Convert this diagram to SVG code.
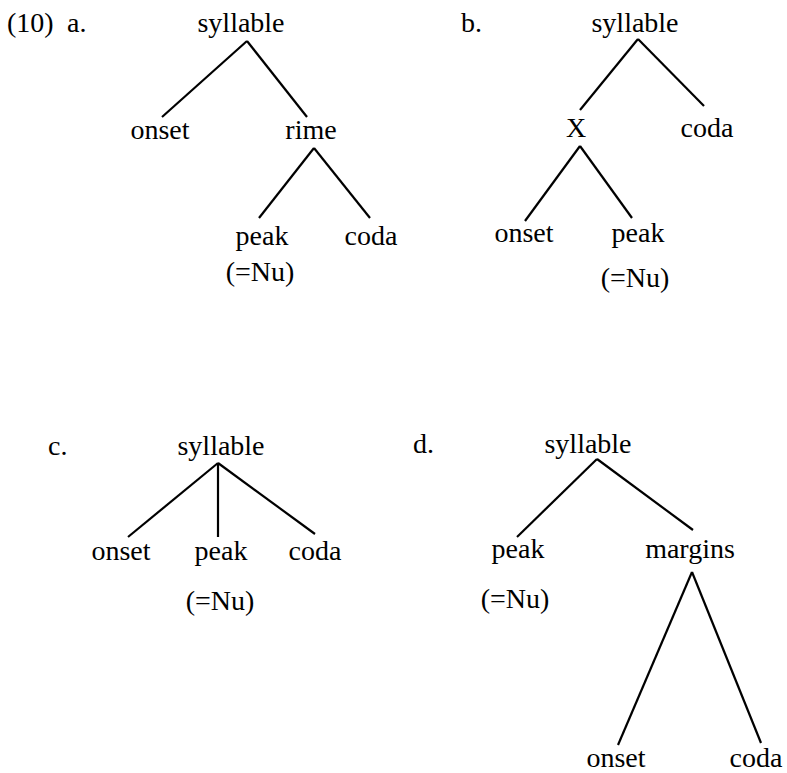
<svg xmlns="http://www.w3.org/2000/svg" width="787" height="773" viewBox="0 0 787 773">
<style>
text{font-family:"Liberation Serif","Times New Roman",serif;font-size:28px;fill:#000;text-anchor:middle}
text.l{text-anchor:start}
#connectors line{stroke:#000;stroke-width:2.2;stroke-linecap:butt}
</style>
<rect width="787" height="773" fill="#fff"/>
<g id="labels">
<text class="l" x="7" y="32">(10)</text>
<text class="l" x="67" y="32">a.</text>
<text class="l" x="461" y="32">b.</text>
<text class="l" x="48" y="455">c.</text>
<text class="l" x="413" y="453">d.</text>
</g>
<g id="tree-a">
<g id="a-syllable"><text x="241" y="32">syllable</text></g>
<g id="a-onset"><text x="160" y="139">onset</text></g>
<g id="a-rime"><text x="311" y="139">rime</text></g>
<g id="a-peak"><text x="262" y="245">peak</text></g>
<g id="a-coda"><text x="371" y="245">coda</text></g>
<g id="a-nu"><text x="260" y="281">(=Nu)</text></g>
</g>
<g id="tree-b">
<g id="b-syllable"><text x="635" y="32">syllable</text></g>
<g id="b-X"><text x="576" y="137">X</text></g>
<g id="b-coda"><text x="707" y="137">coda</text></g>
<g id="b-onset"><text x="524" y="242">onset</text></g>
<g id="b-peak"><text x="638" y="242">peak</text></g>
<g id="b-nu"><text x="635" y="287">(=Nu)</text></g>
</g>
<g id="tree-c">
<g id="c-syllable"><text x="221" y="455">syllable</text></g>
<g id="c-onset"><text x="121" y="560">onset</text></g>
<g id="c-peak"><text x="221" y="560">peak</text></g>
<g id="c-coda"><text x="315" y="560">coda</text></g>
<g id="c-nu"><text x="220" y="610">(=Nu)</text></g>
</g>
<g id="tree-d">
<g id="d-syllable"><text x="588" y="453">syllable</text></g>
<g id="d-peak"><text x="518" y="558">peak</text></g>
<g id="d-margins"><text x="690" y="558">margins</text></g>
<g id="d-nu"><text x="515" y="608">(=Nu)</text></g>
<g id="d-onset"><text x="616" y="767">onset</text></g>
<g id="d-coda"><text x="756" y="767">coda</text></g>
</g>
<g id="connectors">
<line x1="247" y1="41" x2="162" y2="117"/>
<line x1="247" y1="41" x2="307" y2="117"/>
<line x1="314" y1="148" x2="259" y2="218"/>
<line x1="314" y1="148" x2="370" y2="218"/>
<line x1="638" y1="39" x2="580" y2="110"/>
<line x1="638" y1="39" x2="704" y2="106"/>
<line x1="580" y1="146" x2="525" y2="221"/>
<line x1="580" y1="146" x2="632" y2="218"/>
<line x1="218" y1="463" x2="128" y2="537"/>
<line x1="218" y1="463" x2="218" y2="537"/>
<line x1="218" y1="463" x2="315" y2="534"/>
<line x1="597" y1="459" x2="517" y2="537"/>
<line x1="597" y1="459" x2="693" y2="530"/>
<line x1="692" y1="572" x2="618" y2="745"/>
<line x1="692" y1="572" x2="761" y2="743"/>
</g>
</svg>
